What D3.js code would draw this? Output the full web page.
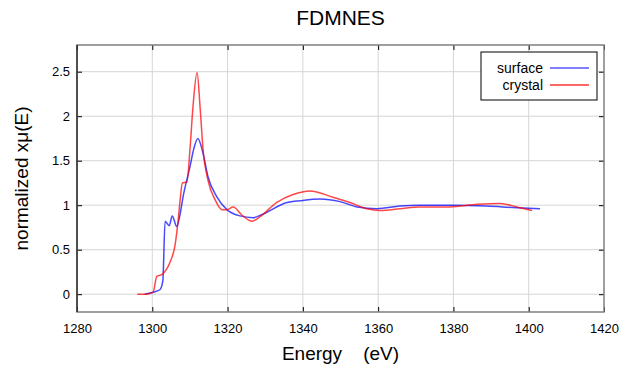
<!DOCTYPE html>
<html>
<head>
<meta charset="utf-8">
<script src="https://cdn.jsdelivr.net/npm/d3@7"></script>
<style>
  body { margin: 0; background: #fff; }
  text { font-family: "Liberation Sans", Arial, sans-serif; fill: #000; }
</style>
</head>
<body>
<div id="chart"></div>
<script>
// energy (eV) / normalized xmu(E)
const surfaceE = [1298, 1300, 1302, 1302.8, 1303.4, 1304.5, 1305.3, 1306.5, 1307.3, 1308.2, 1310, 1311, 1312.1, 1313.5, 1314.8, 1317.2, 1319.8, 1323.3, 1326.8, 1329.4, 1335.8, 1339.2, 1344.6, 1349.9, 1354.4, 1359.7, 1365.8, 1371, 1380, 1388.9, 1396.9, 1403];
const surfaceMu = [0.0, 0.02, 0.05, 0.15, 0.82, 0.77, 0.88, 0.76, 0.88, 1.1, 1.43, 1.63, 1.75, 1.58, 1.32, 1.09, 0.95, 0.88, 0.86, 0.9, 1.03, 1.05, 1.07, 1.04, 0.98, 0.96, 0.99, 1.0, 1.0, 0.99, 0.97, 0.96];
const crystalE = [1296, 1298, 1300.2, 1301.2, 1302.5, 1304.7, 1306, 1306.9, 1307.4, 1308, 1309.2, 1310, 1310.8, 1311.9, 1312.7, 1313.5, 1314.8, 1316.7, 1318.5, 1319.8, 1321.5, 1323.8, 1326.5, 1328.6, 1333, 1337.4, 1341.9, 1348, 1352.5, 1357, 1360.5, 1365.8, 1371, 1379, 1386.3, 1392.4, 1396.9, 1400.9];
const crystalMu = [0.0, 0.0, 0.02, 0.2, 0.22, 0.36, 0.54, 0.84, 1.06, 1.25, 1.26, 1.62, 2.1, 2.49, 2.1, 1.62, 1.28, 1.06, 0.95, 0.95, 0.98, 0.89, 0.82, 0.87, 1.03, 1.12, 1.16, 1.09, 1.03, 0.96, 0.94, 0.96, 0.98, 0.98, 1.01, 1.02, 0.98, 0.94];
const xTicks = [1280, 1300, 1320, 1340, 1360, 1380, 1400, 1420];
const yTicks = [0, 0.5, 1, 1.5, 2, 2.5];
const seriesNames = ["surface", "crystal"];
const seriesColors = ["#0000ff", "#ff0000"];

const width = 633, height = 368;
const margin = { top: 45, right: 29, bottom: 56, left: 77 };

const svg = d3.select("#chart").append("svg")
  .attr("width", width)
  .attr("height", height);

const x = d3.scaleLinear().domain([1280, 1420]).range([margin.left, width - margin.right]);
const y = d3.scaleLinear().domain([-0.2, 2.8]).range([height - margin.bottom, margin.top]);

// grid
svg.append("g").selectAll("line").data(xTicks.slice(1, -1)).join("line")
  .attr("x1", d => x(d)).attr("x2", d => x(d))
  .attr("y1", y(-0.2)).attr("y2", y(2.8))
  .attr("stroke", "#d6d6d6").attr("stroke-width", 1);
svg.append("g").selectAll("line").data(yTicks).join("line")
  .attr("x1", x(1280)).attr("x2", x(1420))
  .attr("y1", d => y(d)).attr("y2", d => y(d))
  .attr("stroke", "#d6d6d6").attr("stroke-width", 1);

// axes with inward ticks, mirrored on opposite sides
const tk = 5;
svg.append("g").attr("transform", `translate(0,${y(-0.2)})`)
  .call(d3.axisBottom(x).tickValues(xTicks).tickSize(-tk).tickPadding(12).tickFormat(d3.format("d")));
svg.append("g").attr("transform", `translate(0,${y(2.8)})`)
  .call(d3.axisTop(x).tickValues(xTicks).tickSize(-tk).tickFormat(""));
svg.append("g").attr("transform", `translate(${x(1280)},0)`)
  .call(d3.axisLeft(y).tickValues(yTicks).tickSize(-tk).tickPadding(7).tickFormat(d => d3.format("")(d)));
svg.append("g").attr("transform", `translate(${x(1420)},0)`)
  .call(d3.axisRight(y).tickValues(yTicks).tickSize(-tk).tickFormat(""));

svg.selectAll(".domain").remove();
svg.selectAll(".tick line").attr("stroke", "#000");
svg.selectAll(".tick text")
  .attr("font-size", 13)
  .attr("font-family", "'Liberation Sans', Arial, sans-serif")
  .attr("fill", "#222");

// frame
svg.append("rect")
  .attr("x", x(1280)).attr("y", y(2.8))
  .attr("width", x(1420) - x(1280)).attr("height", y(-0.2) - y(2.8))
  .attr("fill", "none").attr("stroke", "#7f7f7f").attr("stroke-width", 1.5);
svg.append("line")
  .attr("x1", x(1280)).attr("x2", x(1280))
  .attr("y1", y(2.8)).attr("y2", y(-0.2))
  .attr("stroke", "#000").attr("stroke-width", 1);

// curves
const line = d3.line().x(d => x(d[0])).y(d => y(d[1])).curve(d3.curveMonotoneX);
const series = [d3.zip(surfaceE, surfaceMu), d3.zip(crystalE, crystalMu)];
svg.append("g").selectAll("path").data(series).join("path")
  .attr("d", line)
  .attr("fill", "none")
  .attr("stroke", (d, i) => seriesColors[i])
  .attr("stroke-opacity", 0.72)
  .attr("stroke-width", 1.5)
  .attr("stroke-linejoin", "round");

// title and axis labels
svg.append("text")
  .attr("x", x(1350)).attr("y", 25)
  .attr("text-anchor", "middle").attr("font-size", 21)
  .text("FDMNES");
svg.append("text")
  .attr("x", x(1350)).attr("y", 360)
  .attr("text-anchor", "middle").attr("font-size", 19)
  .attr("xml:space", "preserve")
  .text("Energy    (eV)");
svg.append("text")
  .attr("transform", `translate(28,${y(1.3)}) rotate(-90)`)
  .attr("text-anchor", "middle").attr("font-size", 19)
  .text("normalized xμ(E)");

// legend
const lg = svg.append("g").attr("transform", "translate(481,52)");
lg.append("rect").attr("width", 116).attr("height", 48)
  .attr("fill", "#fff").attr("stroke", "#000").attr("stroke-width", 1);
lg.selectAll("text").data(seriesNames).join("text")
  .attr("x", 62).attr("y", (d, i) => 16 + i * 17 + 5)
  .attr("text-anchor", "end").attr("font-size", 14)
  .text(d => d);
lg.selectAll("line").data(seriesNames).join("line")
  .attr("x1", 69).attr("x2", 108)
  .attr("y1", (d, i) => 16 + i * 17).attr("y2", (d, i) => 16 + i * 17)
  .attr("stroke", (d, i) => seriesColors[i])
  .attr("stroke-opacity", (d, i) => i ? 0.6 : 1)
  .attr("stroke-width", (d, i) => i ? 2 : 1.2);
</script>
</body>
</html>
